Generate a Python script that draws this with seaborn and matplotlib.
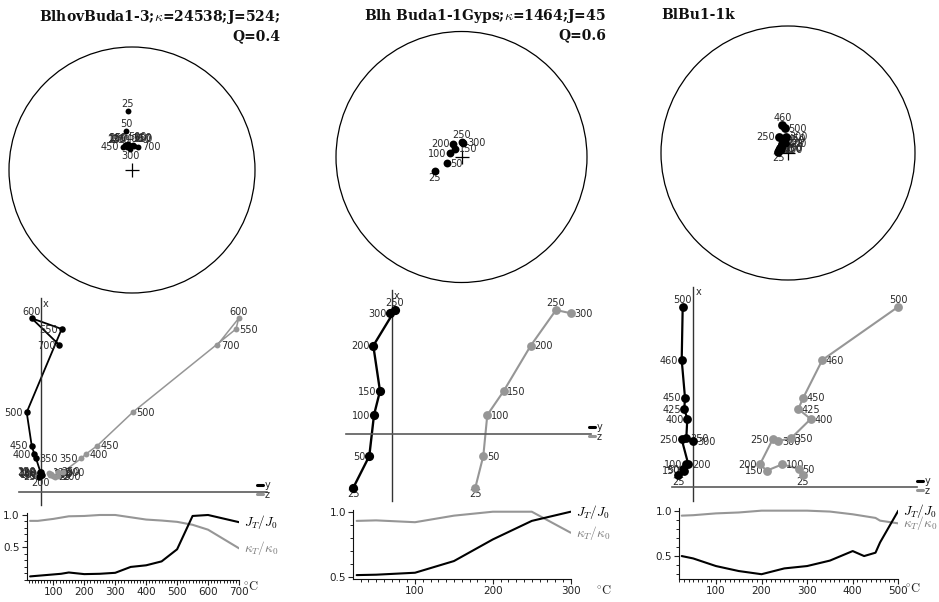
import numpy as np
import pandas as pd
import matplotlib
matplotlib.use("Agg")
import matplotlib.pyplot as plt
from matplotlib import font_manager
from matplotlib.lines import Line2D
from matplotlib.patches import Circle
from matplotlib.ticker import MultipleLocator, FixedLocator, FormatStrFormatter
import seaborn as sns

sns.set_style("ticks")
plt.rcParams["font.family"] = ["DejaVu Sans"]
plt.rcParams["mathtext.fontset"] = "cm"

_installed = {f.name for f in font_manager.fontManager.ttflist}
TICK_FONT = "Liberation Sans Narrow" if "Liberation Sans Narrow" in _installed else "DejaVu Sans"

# ---------------------------------------------------------------- data
# Sample BlhovBuda1-3
s1_title = "BlhovBuda1-3;$\\kappa$=24538;J=524;\nQ=0.4"
s1_steps = [25, 50, 100, 125, 150, 200, 250, 300, 350, 400, 450, 500, 550, 600, 700]
s1_dec = [355.8, 351.2, 350.8, 348.0, 353.0, 355.0, 347.0, 354.6, 358.0, 344.0, 338.1, 351.0, 2.0, 5.0, 15.1]
s1_inc = [50.2, 63.8, 73.3, 73.8, 73.4, 74.7, 74.5, 76.3, 73.8, 73.0, 73.4, 72.7, 73.4, 73.8, 74.1]
s1_mx = [15.0, 16.0, 17.0, 19.0, 18.0, 15.7, 20.0, 19.4, 33.4, 37.7, 46.0, 79.4, 162.7, 173.4, 146.7]
s1_my = [-2.0, -1.5, 0.5, -1.0, 0.0, -1.0, -1.5, -0.5, -5.0, -6.7, -9.3, -14.3, 20.7, -9.3, 18.3]
s1_mz = [14.0, 12.0, 9.0, 8.3, 10.0, 17.3, 17.0, 21.7, 40.3, 45.0, 56.3, 91.7, 195.0, 197.7, 176.3]
s1_jrel = [0.055, 0.065, 0.085, 0.095, 0.115, 0.09, 0.095, 0.11, 0.20, 0.225, 0.285, 0.47, 0.98, 0.995, 0.885]
s1_krel = [0.905, 0.905, 0.935, 0.955, 0.975, 0.98, 0.995, 0.995, 0.96, 0.925, 0.91, 0.89, 0.845, 0.77, 0.485]

# Sample Blh Buda1-1Gyps
s2_title = "Blh Buda1-1Gyps;$\\kappa$=1464;J=45\nQ=0.6"
s2_steps = [25, 50, 100, 150, 200, 250, 300]
s2_dec = [242.0, 247.5, 287.5, 321.0, 327.0, 1.0, 7.0]
s2_inc = [70.5, 79.8, 82.2, 83.3, 79.9, 80.1, 80.7]
s2_mx = [-53.7, -22.0, 19.0, 43.0, 88.3, 124.0, 120.7]
s2_my = [-38.4, -22.4, -17.7, -11.7, -18.4, 3.3, -1.7]
s2_mz = [83.6, 91.6, 95.6, 112.0, 139.0, 164.3, 179.3]
s2_jrel = [0.517, 0.52, 0.535, 0.624, 0.789, 0.93, 1.0]
s2_krel = [0.93, 0.934, 0.92, 0.97, 1.0, 1.0, 0.84]

# Sample BlBu1-1k
s3_title = "BlBu1-1k"
s3_steps = [25, 50, 100, 150, 200, 250, 300, 350, 400, 425, 450, 460, 500]
s3_dec = [277.5, 289.0, 299.4, 302.0, 310.5, 331.0, 353.0, 337.5, 343.0, 326.5, 344.0, 348.4, 353.0]
s3_inc = [83.7, 83.9, 84.9, 84.0, 84.1, 78.1, 79.5, 81.6, 83.3, 83.0, 80.6, 71.7, 74.1]
s3_mx = [11.7, 17.7, 22.4, 16.0, 22.4, 47.4, 45.7, 48.4, 67.7, 77.7, 89.0, 126.7, 180.0]
s3_my = [-15.0, -10.6, -7.0, -9.0, -5.0, -11.6, 0.0, -7.0, -6.0, -9.0, -8.3, -11.6, -10.6]
s3_mz = [109.4, 105.7, 89.0, 73.4, 66.7, 79.4, 85.0, 97.7, 117.4, 105.0, 110.0, 129.0, 205.0]
s3_jrel = [0.50, 0.474, 0.39, 0.335, 0.30, 0.364, 0.39, 0.45, 0.555, 0.50, 0.537, 0.65, 1.0]
s3_krel = [0.945, 0.95, 0.97, 0.98, 1.0, 1.0, 1.0, 0.99, 0.96, 0.94, 0.92, 0.89, 0.86]

# ---------------------------------------------------------------- layout (pixels)
W, H = 939, 602
BLACK = "#000000"
GREY = "#969696"
TXT = "#2a2a2a"

layout = [
    dict(title_xy=(280, 8), title_ha="right",
         net_c=(132, 170), net_r=123,
         zij_box=(19, 298, 267, 505), zij_org=(41, 491.7), key_at=(257, 490),
         dem_box=(26.7, 512.7, 239, 580), dem_x=(14, 700), dem_y=(0.0, 1.03), degc=(243, 587),
         net_s=18, zij_s=(22, 18), zij_lw=(1.3, 1.1),
         net_lab={25: "a", 50: "a", 450: "l", 700: "r", 300: "b",
                  100: "al", 125: "al", 150: "al", 200: "al", 250: "al",
                  350: "ar", 400: "ar", 500: "ar", 550: "ar", 600: "ar"},
         blk_lab={600: "a", 350: "r", 200: "b"}, gry_lab={600: "a", 350: "l"}),
    dict(title_xy=(606, 7), title_ha="right",
         net_c=(461.5, 157), net_r=125.5,
         zij_box=(346, 290, 590.7, 500.7), zij_org=(391.7, 434), key_at=(589, 432),
         dem_box=(353.3, 510.4, 570.7, 579.3), dem_x=(20.7, 300), dem_y=(0.485, 1.01), degc=(596, 590),
         net_s=32, zij_s=(44, 40), zij_lw=(1.7, 1.5),
         net_lab={25: "b", 50: "r", 100: "l", 150: "r", 200: "l", 250: "a", 300: "r"},
         blk_lab={25: "b", 250: "a"}, gry_lab={25: "b", 250: "a"}),
    dict(title_xy=(661.7, 8), title_ha="left",
         net_c=(788, 153), net_r=127,
         zij_box=(671.7, 286.7, 916.7, 500.7), zij_org=(693.3, 486.7), key_at=(917, 486),
         dem_box=(679, 508.3, 898.3, 579.3), dem_x=(19, 500), dem_y=(0.244, 1.026), degc=(905, 588),
         net_s=40, zij_s=(40, 40), zij_lw=(1.6, 1.5),
         net_lab={460: "a", 500: "r", 250: "l", 300: "r", 25: "b"},
         blk_lab={500: "a", 25: "b", 350: "r", 300: "r", 200: "r"},
         gry_lab={500: "a", 25: "b", 250: "l", 200: "l", 150: "l"}),
]

samples = [
    (s1_title, s1_steps, s1_dec, s1_inc, s1_mx, s1_my, s1_mz, s1_jrel, s1_krel),
    (s2_title, s2_steps, s2_dec, s2_inc, s2_mx, s2_my, s2_mz, s2_jrel, s2_krel),
    (s3_title, s3_steps, s3_dec, s3_inc, s3_mx, s3_my, s3_mz, s3_jrel, s3_krel),
]

fig = plt.figure(figsize=(W / 100, H / 100), dpi=100)


def px_axes(left, top, right, bottom):
    ax = fig.add_axes([left / W, 1 - bottom / H, (right - left) / W, (bottom - top) / H])
    ax.set_facecolor("none")
    return ax


OFFSETS = {
    "a": ((0, 1.2), "center", "bottom"),
    "b": ((0, -1.2), "center", "top"),
    "l": ((-2.6, -0.4), "right", "center"),
    "r": ((2.6, -0.4), "left", "center"),
    "al": ((-0.5, 1.2), "right", "bottom"),
    "ar": ((0.5, 1.2), "left", "bottom"),
}


def step_label(ax, x, y, text, where):
    off, ha, va = OFFSETS[where]
    ax.annotate(text, (x, y), xytext=off, textcoords="offset points", ha=ha, va=va,
                fontsize=7, color=TXT, zorder=2.5, annotation_clip=False)


def equal_area(dec, inc):
    d = np.radians(np.asarray(dec))
    i = np.radians(np.abs(np.asarray(inc)))
    r = np.sqrt(2.0) * np.sin((np.pi / 2 - i) / 2)
    return r * np.sin(d), r * np.cos(d)


for (title, steps, dec, inc, mx, my, mz, jrel, krel), lay in zip(samples, layout):
    # title
    tx, ty = lay["title_xy"]
    fig.text(tx / W, 1 - ty / H, title, ha=lay["title_ha"], va="top", multialignment="right",
             fontsize=10, family="DejaVu Serif", fontweight="bold", color="#111111",
             linespacing=1.25)

    # ---- equal-area stereonet
    cx, cy = lay["net_c"]
    R = lay["net_r"]
    ax = px_axes(cx - R, cy - R, cx + R, cy + R)
    ax.set_xlim(-1, 1)
    ax.set_ylim(-1, 1)
    ax.axis("off")
    ax.add_patch(Circle((0, 0), 1, fill=False, lw=0.9, ec="black", clip_on=False))
    ax.plot([0], [0], marker="+", ms=10, mew=0.9, color="black", zorder=1)
    ex, ey = equal_area(dec, inc)
    net = pd.DataFrame({"T": steps, "e": ex, "n": ey})
    sns.scatterplot(data=net, x="e", y="n", color=BLACK, s=lay["net_s"], linewidth=0, ax=ax, zorder=3)
    for t, xx, yy in zip(steps, ex, ey):
        step_label(ax, xx, yy, str(t), lay["net_lab"].get(t, "r"))
    ax.set(xlabel="", ylabel="")

    # ---- Zijderveld diagram (N up; black: N vs E, grey: N vs Down)
    l, t_, r_, b = lay["zij_box"]
    ox, oy = lay["zij_org"]
    ax = px_axes(l, t_, r_, b)
    ax.set_xlim(l - ox, r_ - ox)
    ax.set_ylim(oy - b, oy - t_)
    zdf = pd.DataFrame({"T": steps, "x": mx, "y": my, "z": mz})
    for comp, col, s, lw in (("z", GREY, lay["zij_s"][1], lay["zij_lw"][1]),
                             ("y", BLACK, lay["zij_s"][0], lay["zij_lw"][0])):
        sns.lineplot(data=zdf, x=comp, y="x", sort=False, estimator=None, color=col, lw=lw, ax=ax, zorder=2)
        sns.scatterplot(data=zdf, x=comp, y="x", color=col, s=s, linewidth=0, ax=ax, zorder=3)
    for tt, xx, yy, zz in zip(steps, mx, my, mz):
        step_label(ax, yy, xx, str(tt), lay["blk_lab"].get(tt, "l"))
        step_label(ax, zz, xx, str(tt), lay["gry_lab"].get(tt, "r"))
    ax.set(xlabel="", ylabel="", xticks=[], yticks=[])
    ax.spines["left"].set_position(("data", 0))
    ax.spines["bottom"].set_position(("data", 0))
    ax.spines["left"].set(color="#333333", lw=1.0)
    ax.spines["bottom"].set(color="#5a5a5a", lw=1.2)
    ax.spines[["top", "right"]].set_visible(False)
    ax.annotate("x", (0, oy - t_), xytext=(1.5, -0.5), textcoords="offset points",
                ha="left", va="top", fontsize=7, color=TXT)
    handles = [Line2D([], [], color=BLACK, lw=2.2), Line2D([], [], color=GREY, lw=2.2)]
    kx, ky = lay["key_at"]
    ax.legend(handles, ["y", "z"], loc="center left", bbox_to_anchor=(kx / W, 1 - ky / H),
              bbox_transform=fig.transFigure, frameon=False, fontsize=7, handlelength=0.6,
              handletextpad=0.15, labelspacing=-0.05, borderpad=0, borderaxespad=0,
              labelcolor=TXT)

    # ---- normalised intensity / susceptibility curves
    ax = px_axes(*lay["dem_box"])
    ddf = pd.DataFrame({"T": steps, "J": jrel, "k": krel})
    sns.lineplot(data=ddf, x="T", y="k", color=GREY, lw=1.5, ax=ax)
    sns.lineplot(data=ddf, x="T", y="J", color=BLACK, lw=1.5, ax=ax)
    ax.set_xlim(*lay["dem_x"])
    ax.set_ylim(*lay["dem_y"])
    ax.set(xlabel="", ylabel="")
    ax.xaxis.set_major_locator(MultipleLocator(100))
    ax.xaxis.set_minor_locator(MultipleLocator(10))
    ax.yaxis.set_major_locator(FixedLocator([0.5, 1.0]))
    ax.yaxis.set_minor_locator(MultipleLocator(0.1))
    ax.yaxis.set_major_formatter(FormatStrFormatter("%.1f"))
    ax.tick_params(which="major", length=3.5, width=0.8, labelsize=7.5, pad=1.5,
                   colors="#222222", labelfontfamily=TICK_FONT)
    ax.tick_params(which="minor", length=2.2, width=0.7, colors="#222222")
    sns.despine(ax=ax)
    ax.spines[["left", "bottom"]].set(lw=0.8, color="#111111")
    ax.annotate(r"$J_T/J_0$", (steps[-1], jrel[-1]), xytext=(3.5, 0), textcoords="offset points",
                ha="left", va="center", fontsize=9.5, color=BLACK, annotation_clip=False)
    ax.annotate(r"$\kappa_T/\kappa_0$", (steps[-1], krel[-1]), xytext=(3.5, 0), textcoords="offset points",
                ha="left", va="center", fontsize=9.5, color="#7a7a7a", annotation_clip=False)
    dx, dy = lay["degc"]
    fig.text(dx / W, 1 - dy / H, r"$^{\circ}\mathrm{C}$", ha="left", va="center", fontsize=9, color="#222222")

fig.savefig("out.png", dpi=100)
